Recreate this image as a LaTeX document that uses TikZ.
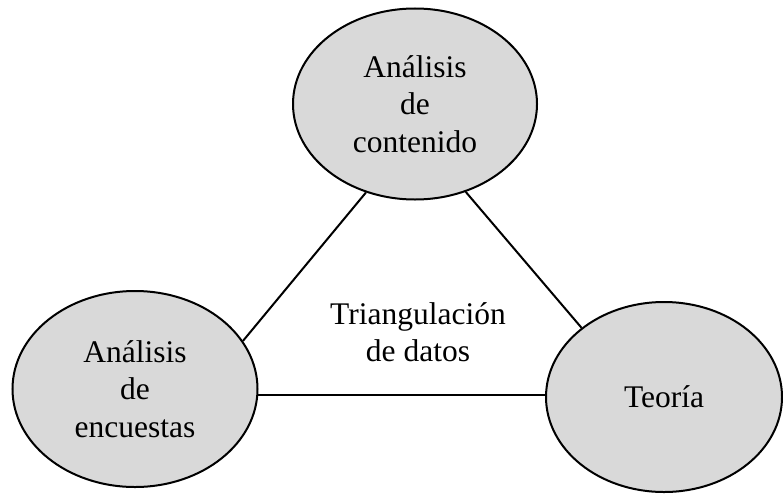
\documentclass[tikz,border=0pt]{standalone}
\usepackage{fontspec}
\setmainfont{Liberation Serif}
\usetikzlibrary{shapes.geometric}
\definecolor{gris}{RGB}{217,217,217}

\begin{document}
\begin{tikzpicture}[x=1pt,y=-1pt,
    bloque/.style={ellipse,draw,line width=2pt,fill=gris,inner sep=0pt,
      align=center,font=\fontsize{31.5}{37.5}\selectfont},
    linea/.style={line width=2pt}]

  \useasboundingbox (0,0) rectangle (783,495);

  % los tres metodos
  \node[bloque,minimum width=244pt,minimum height=191pt] (contenido) at (415,104)
    {An\'alisis\\de\\contenido};
  \node[bloque,minimum width=245pt,minimum height=196pt] (encuestas) at (135,389)
    {An\'alisis\\de\\encuestas};
  \node[bloque,minimum width=236pt,minimum height=190pt] (teoria) at (664,397)
    {Teor\'ia};

  \node[align=center,font=\fontsize{31.5}{37.5}\selectfont] (centro) at (418,332)
    {Triangulaci\'on\\de datos};

  \draw[linea] (contenido.241) -- (encuestas.24);
  \draw[linea] (contenido.300) -- (teoria.140);
  \draw[linea] (encuestas.-3) -- (encuestas.-3 -| teoria.west);
\end{tikzpicture}
\end{document}
